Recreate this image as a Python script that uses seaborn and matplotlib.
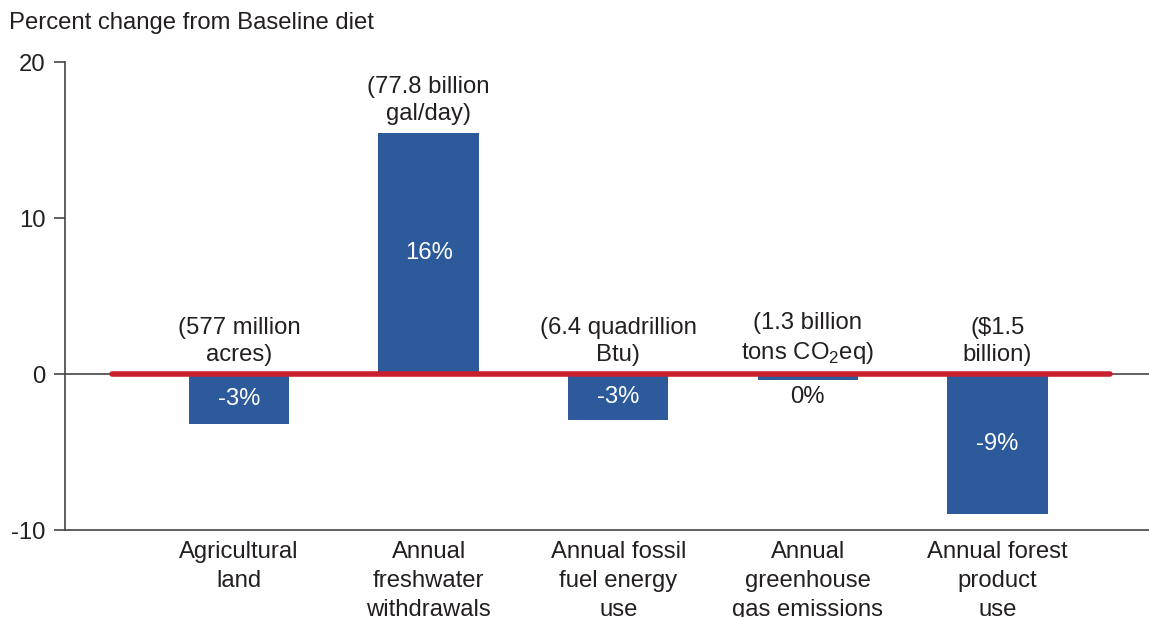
import matplotlib
matplotlib.use("Agg")
import matplotlib.pyplot as plt
import numpy as np
import pandas as pd
import seaborn as sns

# Percent change from Baseline diet
categories = ["Agricultural\nland",
              "Annual\nfreshwater\nwithdrawals",
              "Annual fossil\nfuel energy\nuse",
              "Annual\ngreenhouse\ngas emissions",
              "Annual forest\nproduct\nuse"]
pct_change = [-3.2, 15.45, -2.95, -0.4, -8.95]
bar_labels = ["-3%", "16%", "-3%", "0%", "-9%"]
baseline_labels = ["(577 million\nacres)",
                   "(77.8 billion\ngal/day)",
                   "(6.4 quadrillion\nBtu)",
                   "(1.3 billion\ntons CO$_2$eq)",
                   "($1.5\nbillion)"]

df = pd.DataFrame({"category": categories, "pct": pct_change})

sns.set_style("white")
plt.rcParams["font.family"] = ["Liberation Sans", "DejaVu Sans"]
plt.rcParams["mathtext.fontset"] = "custom"
plt.rcParams["mathtext.rm"] = "Liberation Sans"

bar_color = "#2d5a9b"
red = "#c8202f"
ink = "#231f20"
fs = 17.2

fig = plt.figure(figsize=(11.49, 6.17), dpi=100)
ax = fig.add_axes([0.0566, 0.141, 0.9434, 0.7585])

sns.barplot(data=df, x="category", y="pct", color=bar_color, saturation=1,
            width=0.53, ax=ax, edgecolor="none")

ax.set_xlim(-0.918, 4.80)
ax.set_ylim(-10, 20)
ax.set_yticks([-10, 0, 10, 20])
ax.set_yticklabels(["-10", "0", "10", "20"])

# axes lines
ax.axhline(0, color="#444444", lw=1.2, zorder=1)
ax.axhline(0, xmin=0.043, xmax=0.964, color=red, lw=4, zorder=4,
           solid_capstyle="round")

for side in ["top", "right"]:
    ax.spines[side].set_visible(False)
for side in ["left", "bottom"]:
    ax.spines[side].set_color("#444444")
    ax.spines[side].set_linewidth(1.2)

ax.tick_params(axis="y", length=8, width=1.2, color="#444444",
               labelsize=fs, labelcolor=ink, pad=6, left=True)
ax.tick_params(axis="x", length=0, labelsize=fs, labelcolor=ink, pad=8)
for lab in ax.get_xticklabels():
    lab.set_linespacing(1.42)

ax.set_xlabel("")
ax.set_ylabel("")

for i, (v, lab, base) in enumerate(zip(pct_change, bar_labels, baseline_labels)):
    if abs(v) < 1:
        ax.text(i, -1.5, lab, ha="center", va="center", fontsize=fs,
                color=ink)
    else:
        ax.text(i, v / 2, lab, ha="center", va="center", fontsize=fs,
                color="white")
    ax.text(i, max(v, 0) + 0.5, base, ha="center", va="bottom",
            fontsize=fs, color=ink, linespacing=1.32)

fig.text(0.008, 0.962, "Percent change from Baseline diet", fontsize=fs,
         color=ink, ha="left", va="center")

fig.savefig("out.png", dpi=100)
